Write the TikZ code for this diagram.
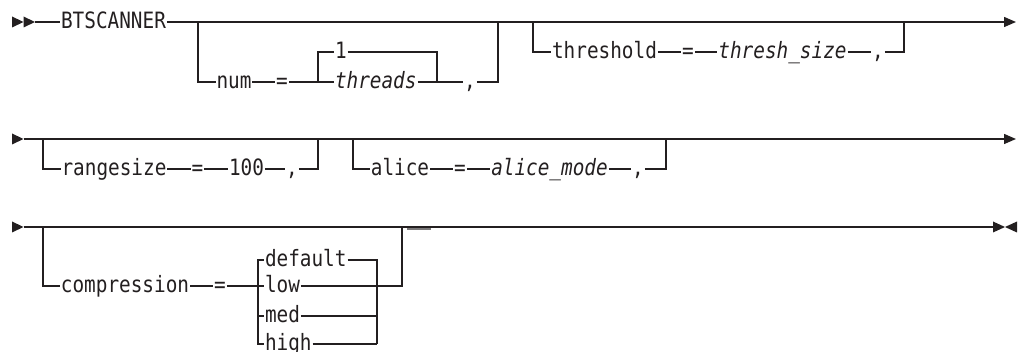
\documentclass[tikz,border=0pt]{standalone}
\usepackage{fontspec}
\newfontfamily\rrfont[FakeStretch=0.86]{DejaVu Sans Mono}
\usetikzlibrary{arrows.meta}
\definecolor{ink}{HTML}{231F20}
\begin{document}
\begin{tikzpicture}[x=1pt,y=-1pt,
  rail/.style={line width=1.4pt, draw=ink},
  kw/.style={inner xsep=0.8pt, inner ysep=0pt, font=\rrfont\fontsize{22.5}{25}\selectfont, text height=16.5pt, text depth=4.24pt, text=ink},
  var/.style={kw, font=\rrfont\itshape\fontsize{22.5}{25}\selectfont},
  endarrow/.style={-{Triangle[length=12pt,width=10pt]}},
  tip/.style={fill=ink}]
\useasboundingbox (0,0) rectangle (1021,352);

% ---------- row 1 ----------
\path[tip] (12,16.5) -- (23.5,22) -- (12,27.5) -- cycle;
\path[tip] (23.5,16.5) -- (35,22) -- (23.5,27.5) -- cycle;
\coordinate (s1) at (35,22);
\coordinate (e1) at (1016,22);
\node[kw] (bts) at (113.5,22) {BTSCANNER};
\coordinate (j1a) at (198,22);
\coordinate (j1b) at (498,22);
\coordinate (j1c) at (533,22);
\coordinate (j1d) at (904,22);
\coordinate (i1b) at (318,82);
\coordinate (i1c) at (437,82);
\node[kw] (num) at (234,82) {num};
\node[kw] (eq1) at (282,82) {=};
\node[var,anchor=west] (threads) at (334,82) {threads};
\node[kw,anchor=west] (one) at (334,52) {1};
\node[kw] (comma1) at (470,82) {,};
\node[kw] (thr) at (604.5,52) {threshold};
\node[kw] (eq2) at (688,52) {=};
\node[var] (tsz) at (782.5,52) {thresh\_size};
\node[kw] (comma2) at (878,52) {,};

\draw[rail] (s1) -- (bts);
\draw[rail,endarrow] (bts) -- (e1);
\draw[rail] (j1a) |- (num);
\draw[rail] (num) -- (eq1);
\draw[rail] (eq1) -- (i1b) -- (threads);
\draw[rail] (i1b) |- (one);
\draw[rail] (one) -| (i1c);
\draw[rail] (threads) -- (comma1);
\draw[rail] (comma1) -| (j1b);
\draw[rail] (j1c) |- (thr);
\draw[rail] (thr) -- (eq2);
\draw[rail] (eq2) -- (tsz);
\draw[rail] (tsz) -- (comma2);
\draw[rail] (comma2) -| (j1d);

% ---------- row 2 ----------
\path[tip] (12,133.5) -- (23.5,139) -- (12,144.5) -- cycle;
\coordinate (s2) at (23.5,139);
\coordinate (e2) at (1016,139);
\coordinate (j2a) at (43,139);
\coordinate (j2b) at (318,139);
\coordinate (j2c) at (353,139);
\coordinate (j2d) at (666,139);
\node[kw] (rs) at (114,169) {rangesize};
\node[kw] (eq3) at (197.5,169) {=};
\node[kw] (hundred) at (246.5,169) {100};
\node[kw] (comma3) at (292,169) {,};
\node[kw] (al) at (400,169) {alice};
\node[kw] (eq4) at (460,169) {=};
\node[var] (am) at (549.5,169) {alice\_mode};
\node[kw] (comma4) at (638,169) {,};

\draw[rail,endarrow] (s2) -- (e2);
\draw[rail] (j2a) |- (rs);
\draw[rail] (rs) -- (eq3);
\draw[rail] (eq3) -- (hundred);
\draw[rail] (hundred) -- (comma3);
\draw[rail] (comma3) -| (j2b);
\draw[rail] (j2c) |- (al);
\draw[rail] (al) -- (eq4);
\draw[rail] (eq4) -- (am);
\draw[rail] (am) -- (comma4);
\draw[rail] (comma4) -| (j2d);

% ---------- row 3 ----------
\path[tip] (12,221.5) -- (23.5,227) -- (12,232.5) -- cycle;
\path[tip] (993,221.5) -- (1005,227) -- (993,232.5) -- cycle;
\path[tip] (1017,221.5) -- (1005,227) -- (1017,232.5) -- cycle;
\coordinate (s3) at (23.5,227);
\coordinate (e3) at (993,227);
\coordinate (j3a) at (43,227);
\coordinate (j3c) at (402,227);
\coordinate (k1) at (258,286);
\coordinate (k3) at (377,344);
\node[kw] (cmp) at (125,286) {compression};
\node[kw] (eq5) at (220,286) {=};
\node[kw,anchor=west] (def) at (264,260) {default};
\node[kw,anchor=west] (low) at (264,286) {low};
\node[kw,anchor=west] (med) at (264,316) {med};
\node[kw,anchor=west] (high) at (264,344) {high};

\draw[rail] (s3) -- (e3);
\draw[rail] (j3a) |- (cmp);
\draw[rail] (cmp) -- (eq5);
\draw[rail] (eq5) -- (k1) -- (low);
\draw[rail] (k1) |- (def);
\draw[rail] (k1) |- (med);
\draw[rail] (k1) |- (high);
\draw[rail] (def) -| (k3);
\draw[rail] (med) -| (k3);
\draw[rail] (high) -- (k3);
\draw[rail] (low) -| (j3c);
\draw[line width=1.4pt, draw=ink!60] (407,229) -- (431,229);
\end{tikzpicture}
\end{document}
